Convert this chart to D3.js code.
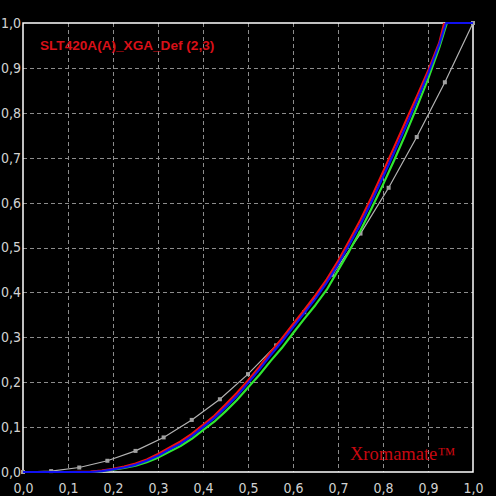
<!DOCTYPE html>
<html><head><meta charset="utf-8">
<script src="https://cdn.jsdelivr.net/npm/d3@7"></script>
<style>
html,body{margin:0;padding:0;background:#000;}
svg{display:block;}
</style></head>
<body>
<script>
// ---- data ----
const ticks = [0,0.1,0.2,0.3,0.4,0.5,0.6,0.7,0.8,0.9,1.0];
const title = "SLT420A(A)_XGA_Def (2,3)";
const brand = "Xromamate\u2122";

// gray reference curve with markers
const grayX = [0,0.0625,0.125,0.1875,0.25,0.3125,0.375,0.4375,0.5,0.5625,0.625,0.6875,0.75,0.8125,0.875,0.9375,1.0];
const grayY = [0,0.002,0.010,0.025,0.047,0.077,0.116,0.162,0.218,0.282,0.356,0.439,0.531,0.633,0.746,0.868,1.0];

const redX = [0,0.05,0.10,0.15,0.175,0.20,0.225,0.25,0.275,0.30,0.325,0.35,0.375,0.40,0.425,0.45,0.475,0.50,0.525,0.55,0.575,0.60,0.625,0.65,0.675,0.70,0.725,0.75,0.775,0.80,0.825,0.85,0.875,0.90,0.925,0.936];
const redY = [0,0,0,0.001,0.003,0.007,0.012,0.019,0.028,0.040,0.054,0.068,0.085,0.105,0.125,0.150,0.176,0.204,0.234,0.267,0.297,0.329,0.361,0.394,0.429,0.470,0.515,0.562,0.613,0.668,0.724,0.780,0.836,0.893,0.956,1.0];

const greenX = [0,0.05,0.10,0.15,0.175,0.20,0.225,0.25,0.275,0.30,0.325,0.35,0.375,0.40,0.425,0.45,0.475,0.50,0.525,0.55,0.575,0.60,0.625,0.65,0.675,0.70,0.725,0.75,0.775,0.80,0.825,0.85,0.875,0.90,0.925,0.942];
const greenY = [0,0,0,0,0.002,0.005,0.009,0.014,0.022,0.032,0.045,0.058,0.074,0.093,0.112,0.135,0.160,0.188,0.216,0.247,0.276,0.309,0.341,0.372,0.406,0.449,0.492,0.538,0.588,0.640,0.695,0.752,0.812,0.875,0.945,1.0];

const blueX = [0,0.05,0.10,0.15,0.175,0.20,0.225,0.25,0.275,0.30,0.325,0.35,0.375,0.40,0.425,0.45,0.475,0.50,0.525,0.55,0.575,0.60,0.625,0.65,0.675,0.70,0.725,0.75,0.775,0.80,0.825,0.85,0.875,0.90,0.925,0.940,1.0];
const blueY = [0,0,0,0,0.002,0.006,0.010,0.016,0.025,0.036,0.050,0.063,0.080,0.100,0.120,0.144,0.169,0.198,0.228,0.260,0.290,0.322,0.354,0.386,0.422,0.462,0.506,0.552,0.603,0.657,0.712,0.768,0.826,0.886,0.952,1.0,1.0];

// ---- chart ----
const W = 496, H = 496;
const L = 23, R = 473, T = 23, B = 472;
const svg = d3.select("body").append("svg").attr("width", W).attr("height", H)
  .style("background", "#000");
const x = d3.scaleLinear().domain([0,1]).range([L,R]);
const y = d3.scaleLinear().domain([0,1]).range([B,T]);
const fmt = d => d3.format(".1f")(d).replace(".", ",");

// grid
svg.append("g").selectAll("line.v").data(ticks.slice(1,-1)).join("line")
  .attr("x1", d => x(d)).attr("x2", d => x(d)).attr("y1", T).attr("y2", B)
  .attr("stroke", "#8c8c8c").attr("stroke-width", 1).attr("stroke-dasharray", "4,3")
  .attr("shape-rendering", "crispEdges");
svg.append("g").selectAll("line.h").data(ticks.slice(1,-1)).join("line")
  .attr("y1", d => Math.round(y(d))+0.5).attr("y2", d => Math.round(y(d))+0.5).attr("x1", L).attr("x2", R)
  .attr("stroke", "#8c8c8c").attr("stroke-width", 1).attr("stroke-dasharray", "4,3")
  .attr("shape-rendering", "crispEdges");

// axes (labels)
const fontFam = "'Liberation Sans Narrow','DejaVu Sans Condensed','Liberation Sans',sans-serif";
const xa = svg.append("g").attr("transform", `translate(0,${B})`)
  .call(d3.axisBottom(x).tickValues(ticks).tickFormat(fmt).tickSize(0).tickPadding(11));
const ya = svg.append("g").attr("transform", `translate(${L},0)`)
  .call(d3.axisLeft(y).tickValues(ticks).tickFormat(fmt).tickSize(0).tickPadding(2));
[xa, ya].forEach(a => {
  a.select(".domain").remove();
  a.selectAll("text").attr("fill", "#d2d2d2").style("font-family", fontFam).style("font-size", "14px");
});

// frame
svg.append("rect").attr("x", L).attr("y", T).attr("width", R-L).attr("height", B-T)
  .attr("fill", "none").attr("stroke", "#ffffff").attr("stroke-width", 1.5);

// gray reference
const grayPts = grayX.map((v,i) => [v, grayY[i]]);
const line = d3.line().x(d => x(d[0])).y(d => y(d[1]));
svg.append("path").datum(grayPts).attr("d", line)
  .attr("fill", "none").attr("stroke", "#b4b4b4").attr("stroke-width", 1.2);
svg.append("g").selectAll("rect").data(grayPts).join("rect")
  .attr("x", d => x(d[0]) - 2).attr("y", d => y(d[1]) - 2).attr("width", 4).attr("height", 4)
  .attr("fill", "#a0a0a0");

// measured curves
const series = [
  {xs: greenX, ys: greenY, c: "#30e830"},
  {xs: redX, ys: redY, c: "#f01010"},
  {xs: blueX, ys: blueY, c: "#1010f0"}
];
series.forEach(s => {
  svg.append("path").datum(s.xs.map((v,i) => [v, s.ys[i]])).attr("d", line)
    .attr("fill", "none").attr("stroke", s.c).attr("stroke-width", 2.2)
    .attr("stroke-linejoin", "round");
});

// title text
svg.append("text").attr("x", 40).attr("y", 50).text(title)
  .attr("fill", "#d81018").style("font-family", "'Liberation Sans','Arial',sans-serif")
  .style("font-weight", "bold").style("font-size", "13.6px");

svg.append("text").attr("x", 350).attr("y", 460).text(brand)
  .attr("fill", "#c80810").style("font-family", "'Liberation Serif','Times New Roman',serif")
  .style("font-size", "18.5px");
</script>
</body></html>
